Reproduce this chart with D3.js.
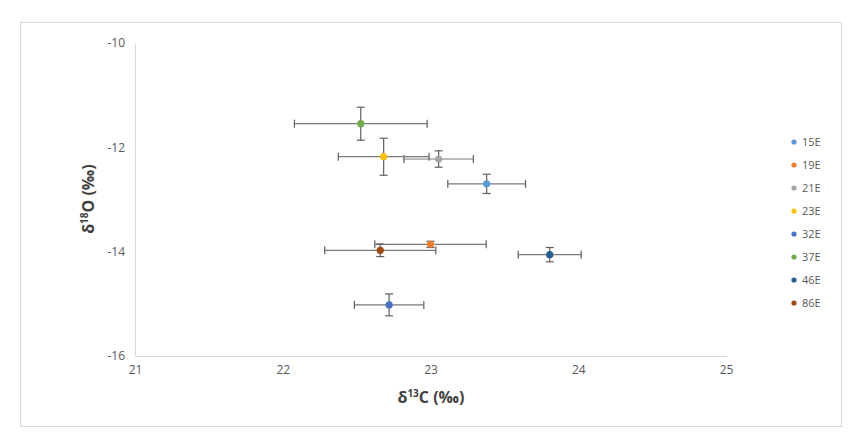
<!DOCTYPE html>
<html><head><meta charset="utf-8">
<script src="https://cdn.jsdelivr.net/npm/d3@7"></script>
<style>body{margin:0;background:#fff;} svg{display:block;}</style>
</head><body>
<svg id="chart" width="859" height="436"></svg>
<script>
const series = ["15E","19E","21E","23E","32E","37E","46E","86E"];
const colors = ["#5B9BD5","#ED7D31","#A5A5A5","#FFC000","#4472C4","#70AD47","#255E91","#9E480E"];
const xValues = [23.38, 23.00, 23.055, 22.683, 22.72, 22.528, 23.807, 22.66];
const yValues = [-12.70, -13.86, -12.224, -12.18, -15.02, -11.547, -14.057, -13.974];
const xErr = [0.263, 0.377, 0.235, 0.307, 0.235, 0.449, 0.213, 0.376];
const yErr = [0.185, 0.06, 0.157, 0.355, 0.21, 0.316, 0.137, 0.12];
const xTicks = [21,22,23,24,25];
const yTicks = [-10,-12,-14,-16];

const svg = d3.select("#chart");
const font = "'Open Sans', 'Noto Sans', sans-serif";
svg.append("rect").attr("x",20.5).attr("y",22.5).attr("width",821).attr("height",404)
  .attr("fill","#fff").attr("stroke","#d9d9d9");

const x = d3.scaleLinear().domain([21,25]).range([135,726]);
const y = d3.scaleLinear().domain([-16,-10]).range([356,43]);

const xAxis = svg.append("g").attr("transform","translate(0,356)")
  .call(d3.axisBottom(x).tickValues(xTicks).tickFormat(d=>String(d)).tickSize(0).tickPadding(9));
const yAxis = svg.append("g").attr("transform","translate(135,0)")
  .call(d3.axisLeft(y).tickValues(yTicks).tickFormat(d=>String(d)).tickSize(0).tickPadding(10));
[xAxis,yAxis].forEach(a=>{
  a.select(".domain").attr("stroke","#d9d9d9");
  a.selectAll("text").attr("fill","#595959").style("font-family",font).style("font-size","12px");
});

const data = series.map((s,i)=>({s, c:colors[i], x:xValues[i], y:yValues[i], ex:xErr[i], ey:yErr[i]}));
const g = svg.append("g");
const capX = 4, capY = 4;
data.forEach(d=>{
  const gg = g.append("g").attr("stroke","#5f5f5f").attr("stroke-width",1.2);
  gg.append("line").attr("x1",x(d.x-d.ex)).attr("x2",x(d.x+d.ex)).attr("y1",y(d.y)).attr("y2",y(d.y)).attr("stroke","#7a7a7a");
  gg.append("line").attr("x1",x(d.x-d.ex)).attr("x2",x(d.x-d.ex)).attr("y1",y(d.y)-capX).attr("y2",y(d.y)+capX);
  gg.append("line").attr("x1",x(d.x+d.ex)).attr("x2",x(d.x+d.ex)).attr("y1",y(d.y)-capX).attr("y2",y(d.y)+capX);
  gg.append("line").attr("x1",x(d.x)).attr("x2",x(d.x)).attr("y1",y(d.y-d.ey)).attr("y2",y(d.y+d.ey));
  gg.append("line").attr("x1",x(d.x)-capY).attr("x2",x(d.x)+capY).attr("y1",y(d.y-d.ey)).attr("y2",y(d.y-d.ey));
  gg.append("line").attr("x1",x(d.x)-capY).attr("x2",x(d.x)+capY).attr("y1",y(d.y+d.ey)).attr("y2",y(d.y+d.ey));
});
g.selectAll("circle.pt").data(data).join("circle").attr("class","pt")
  .attr("cx",d=>x(d.x)).attr("cy",d=>y(d.y)).attr("r",3.6).attr("fill",d=>d.c);

// axis titles
const xt = svg.append("text").attr("x",431).attr("y",403).attr("text-anchor","middle")
  .style("font-family",font).style("font-size","16px").style("font-weight","bold").attr("fill","#404040");
xt.append("tspan").text("δ");
xt.append("tspan").text("13").attr("dy",-6).style("font-size","10px");
xt.append("tspan").text("C (‰)").attr("dy",6);
const yt = svg.append("text").attr("transform","translate(94,199) rotate(-90)").attr("text-anchor","middle")
  .style("font-family",font).style("font-size","16px").style("font-weight","bold").attr("fill","#404040");
yt.append("tspan").text("δ");
yt.append("tspan").text("18").attr("dy",-6).style("font-size","10px");
yt.append("tspan").text("O (‰)").attr("dy",6);

// legend
const lg = svg.append("g");
const items = lg.selectAll("g").data(data).join("g").attr("transform",(d,i)=>`translate(794,${142+i*23})`);
items.append("circle").attr("r",2.6).attr("fill",d=>d.c);
items.append("text").attr("x",8).attr("dy","0.35em").text(d=>d.s)
  .style("font-family",font).style("font-size","11px").attr("fill","#595959");
</script>
</body></html>
